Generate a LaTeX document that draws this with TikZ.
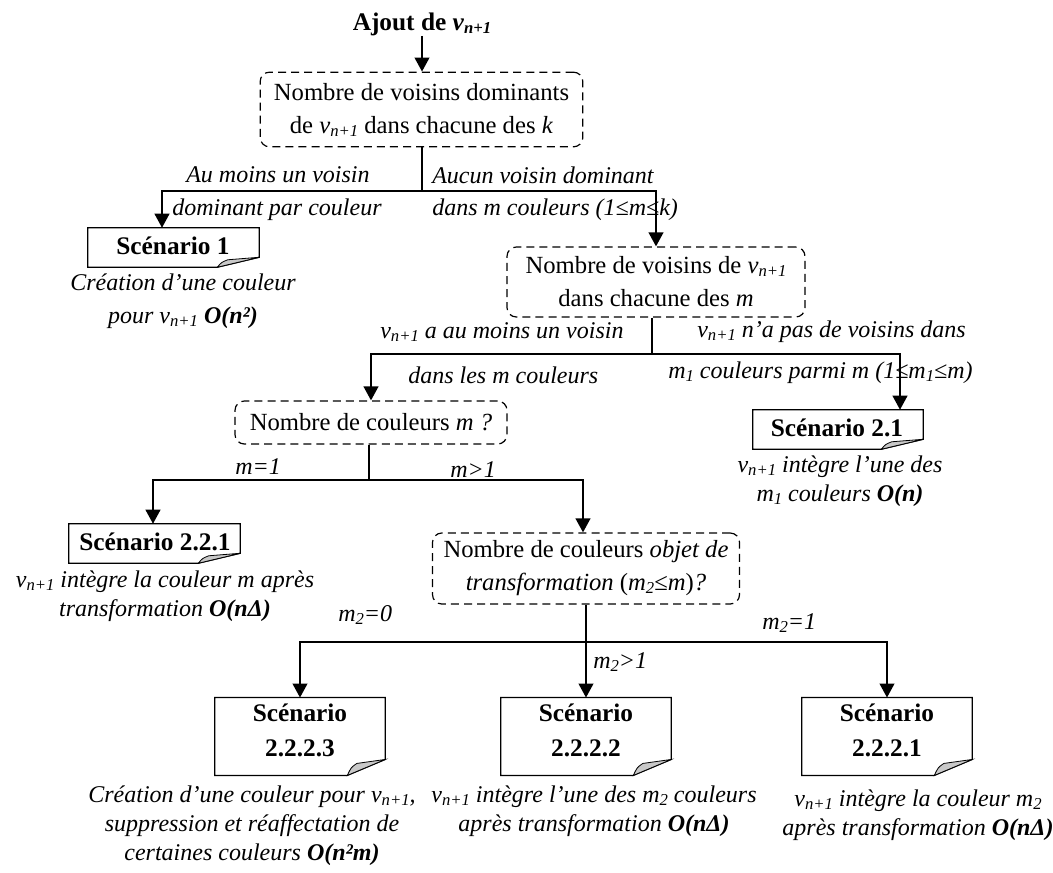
\documentclass[tikz,border=0pt]{standalone}
\usepackage{fontspec}
\setmainfont{Liberation Serif}
\usetikzlibrary{arrows.meta,calc}

% lowered, smaller italic index (v_{n+1}, m_1, m_2)
\newcommand\sub[1]{\raisebox{-0.12em}{\fontsize{12.5}{12.5}\selectfont\itshape #1}}
\newcommand\vn{\textit{v}\sub{n+1}}
\newcommand\cost[1]{\textbf{\textit{#1}}}

\definecolor{foldgrey}{RGB}{200,200,200}

% outline of a document box with a folded lower-right corner
% #1 node name, #2 horizontal cut, #3 vertical cut
\newcommand\docshape[3]{%
  \draw[line width=0.9pt, fill=white]
    (#1.north west) -- (#1.north east) -- ($(#1.south east)+(0,-#3)$)
    -- ($(#1.south east)+(-#2,0)$) -- (#1.south west) -- cycle;
  \draw[line width=0.6pt, fill=foldgrey]
    ($(#1.south east)+(-#2,0)$)
    .. controls ($(#1.south east)+(-0.9*#2,-0.5*#3)$) .. ($(#1.south east)+(-0.75*#2,-0.75*#3)$)
    -- ($(#1.south east)+(0,-#3)$) -- cycle;}

\begin{document}
\begin{tikzpicture}[x=0.75pt,y=-0.75pt,
  qbox/.style={draw, dash pattern=on 6pt off 3.8pt, line width=0.9pt,
    rounded corners=7pt, inner sep=0pt, align=center,
    font=\fontsize{18.5}{24.75}\selectfont},
  docbox/.style={inner sep=0pt},
  doctext/.style={inner sep=0pt, align=center,
    font=\fontsize{19}{26.25}\selectfont\bfseries},
  lbl/.style={inner sep=0pt, anchor=west, font=\fontsize{18}{22}\selectfont\itshape},
  desc/.style={inner sep=0pt, align=center, font=\fontsize{18}{21.75}\selectfont\itshape},
  link/.style={line width=1.5pt},
  arr/.style={link, -{Triangle[width=11pt,length=10.5pt]}}]

\useasboundingbox (0,0) rectangle (1053,872);

% ---------- title ----------
\node[inner sep=0pt, font=\fontsize{19}{22}\selectfont\bfseries] (title) at (422,24)
  {Ajout de \textit{v}\sub{n+1}};

% ---------- decision boxes ----------
\node[qbox, minimum width=242pt, minimum height=56pt] (q1) at (421.5,109.5)
  {Nombre de voisins dominants\\de \vn{} dans chacune des \textit{k}};
\node[qbox, minimum width=223.5pt, minimum height=52.5pt] (q2) at (656,282)
  {Nombre de voisins de \vn\\dans chacune des \textit{m}};
\node[qbox, minimum width=204pt, minimum height=32.25pt] (q3) at (371,422.5)
  {Nombre de couleurs \textit{m ?}};
\node[qbox, minimum width=230.25pt, minimum height=53.25pt] (q4) at (586,568.5)
  {Nombre de couleurs \textit{objet de}\\\textit{transformation} (\textit{m\sub{2}}≤\textit{m})\textit{?}};

% ---------- scenario boxes ----------
\node[docbox, minimum width=128.25pt, minimum height=29.25pt] (s1) at (173.5,247.5) {};
\docshape{s1}{42}{10}
\node[doctext] (s1t) at (173,245.5) {Scénario 1};

\node[docbox, minimum width=127.5pt, minimum height=29.25pt] (s21) at (838,429.5) {};
\docshape{s21}{42}{10}
\node[doctext] (s21t) at (837,427.5) {Scénario 2.1};

\node[docbox, minimum width=128.25pt, minimum height=29.25pt] (s221) at (154.5,543.5) {};
\docshape{s221}{42}{10}
\node[doctext] (s221t) at (155,541.5) {Scénario 2.2.1};

\node[docbox, minimum width=127.5pt, minimum height=58pt] (s2223) at (300,736.5) {};
\docshape{s2223}{38}{16}
\node[doctext] (s2223t) at (300,730) {Scénario\\2.2.2.3};

\node[docbox, minimum width=127.5pt, minimum height=58pt] (s2222) at (586,736.5) {};
\docshape{s2222}{38}{16}
\node[doctext] (s2222t) at (586,730) {Scénario\\2.2.2.2};

\node[docbox, minimum width=127.5pt, minimum height=58pt] (s2221) at (887,736.5) {};
\docshape{s2221}{38}{16}
\node[doctext] (s2221t) at (887,730) {Scénario\\2.2.2.1};

% ---------- scenario descriptions ----------
\node[desc, font=\fontsize{18}{24.75}\selectfont\itshape] (d1) at (183,301)
  {Création d’une couleur\\pour \vn{} \cost{O(n²)}};
\node[desc] (d21) at (840,481.5)
  {\vn{} intègre l’une des\\\textit{m\sub{1}} couleurs \cost{O(n)}};
\node[desc] (d221) at (165,596)
  {\vn{} intègre la couleur \textit{m} après\\transformation \cost{O(nΔ)}};
\node[desc] (d2223) at (252,826)
  {Création d’une couleur pour \vn,\\suppression et réaffectation de\\certaines couleurs \cost{O(n²m)}};
\node[desc] (d2222) at (594,811.5)
  {\vn{} intègre l’une des \textit{m\sub{2}} couleurs\\après transformation \cost{O(nΔ)}};
\node[desc] (d2221) at (918,815.5)
  {\vn{} intègre la couleur \textit{m\sub{2}}\\après transformation \cost{O(nΔ)}};

% ---------- branch labels ----------
\node[lbl] (l1a) at (186,175) {Au moins un voisin};
\node[lbl] (l1b) at (172,210) {dominant par couleur};
\node[lbl] (l1c) at (432,175) {Aucun voisin dominant};
\node[lbl] (l1d) at (432,210) {dans m couleurs (1≤m≤k)};

\node[lbl] (l2a) at (380,332) {\vn{} a au moins un voisin};
\node[lbl] (l2b) at (408,375) {dans les m couleurs};
\node[lbl] (l2c) at (697,332) {\vn{} n’a pas de voisins dans};
\node[lbl] (l2d) at (668,373) {m\sub{1} couleurs parmi m (1≤m\sub{1}≤m)};

\node[lbl] (l3a) at (235,467) {m=1};
\node[lbl] (l3b) at (450,470) {m>1};

\node[lbl] (l4a) at (338,615) {m\sub{2}=0};
\node[lbl] (l4b) at (593,662) {m\sub{2}>1};
\node[lbl] (l4c) at (762,623) {m\sub{2}=1};

% ---------- connectors ----------
\draw[arr] (title.south) -- (title.south |- q1.north);

\coordinate (j1) at ($(q1.south)+(0,44)$);
\draw[link] (q1.south) -- (j1);
\draw[arr] (j1) -| ($(s1.north)+(-11.5,0)$);
\draw[arr] (j1) -| (q2.north);

\coordinate (j2) at ($(q2.south)+(-4,36)$);
\draw[link] (q2.south -| j2) -- (j2);
\draw[arr] (j2) -| (q3.north);
\draw[arr] (j2) -| ($(s21.north)+(62,0)$);

\coordinate (j3) at ($(q3.south)+(-2,35)$);
\draw[link] (q3.south -| j3) -- (j3);
\draw[arr] (j3) -| ($(s221.north)+(-1.5,0)$);
\draw[arr] (j3) -| ($(q4.north)+(-3,0)$);

\coordinate (j4) at ($(q4.south)+(0,37)$);
\draw[link] (q4.south) -- (j4);
\draw[arr] (j4) -| (s2223.north);
\draw[arr] (j4) -- (s2222.north);
\draw[arr] (j4) -| (s2221.north);

\end{tikzpicture}
\end{document}
